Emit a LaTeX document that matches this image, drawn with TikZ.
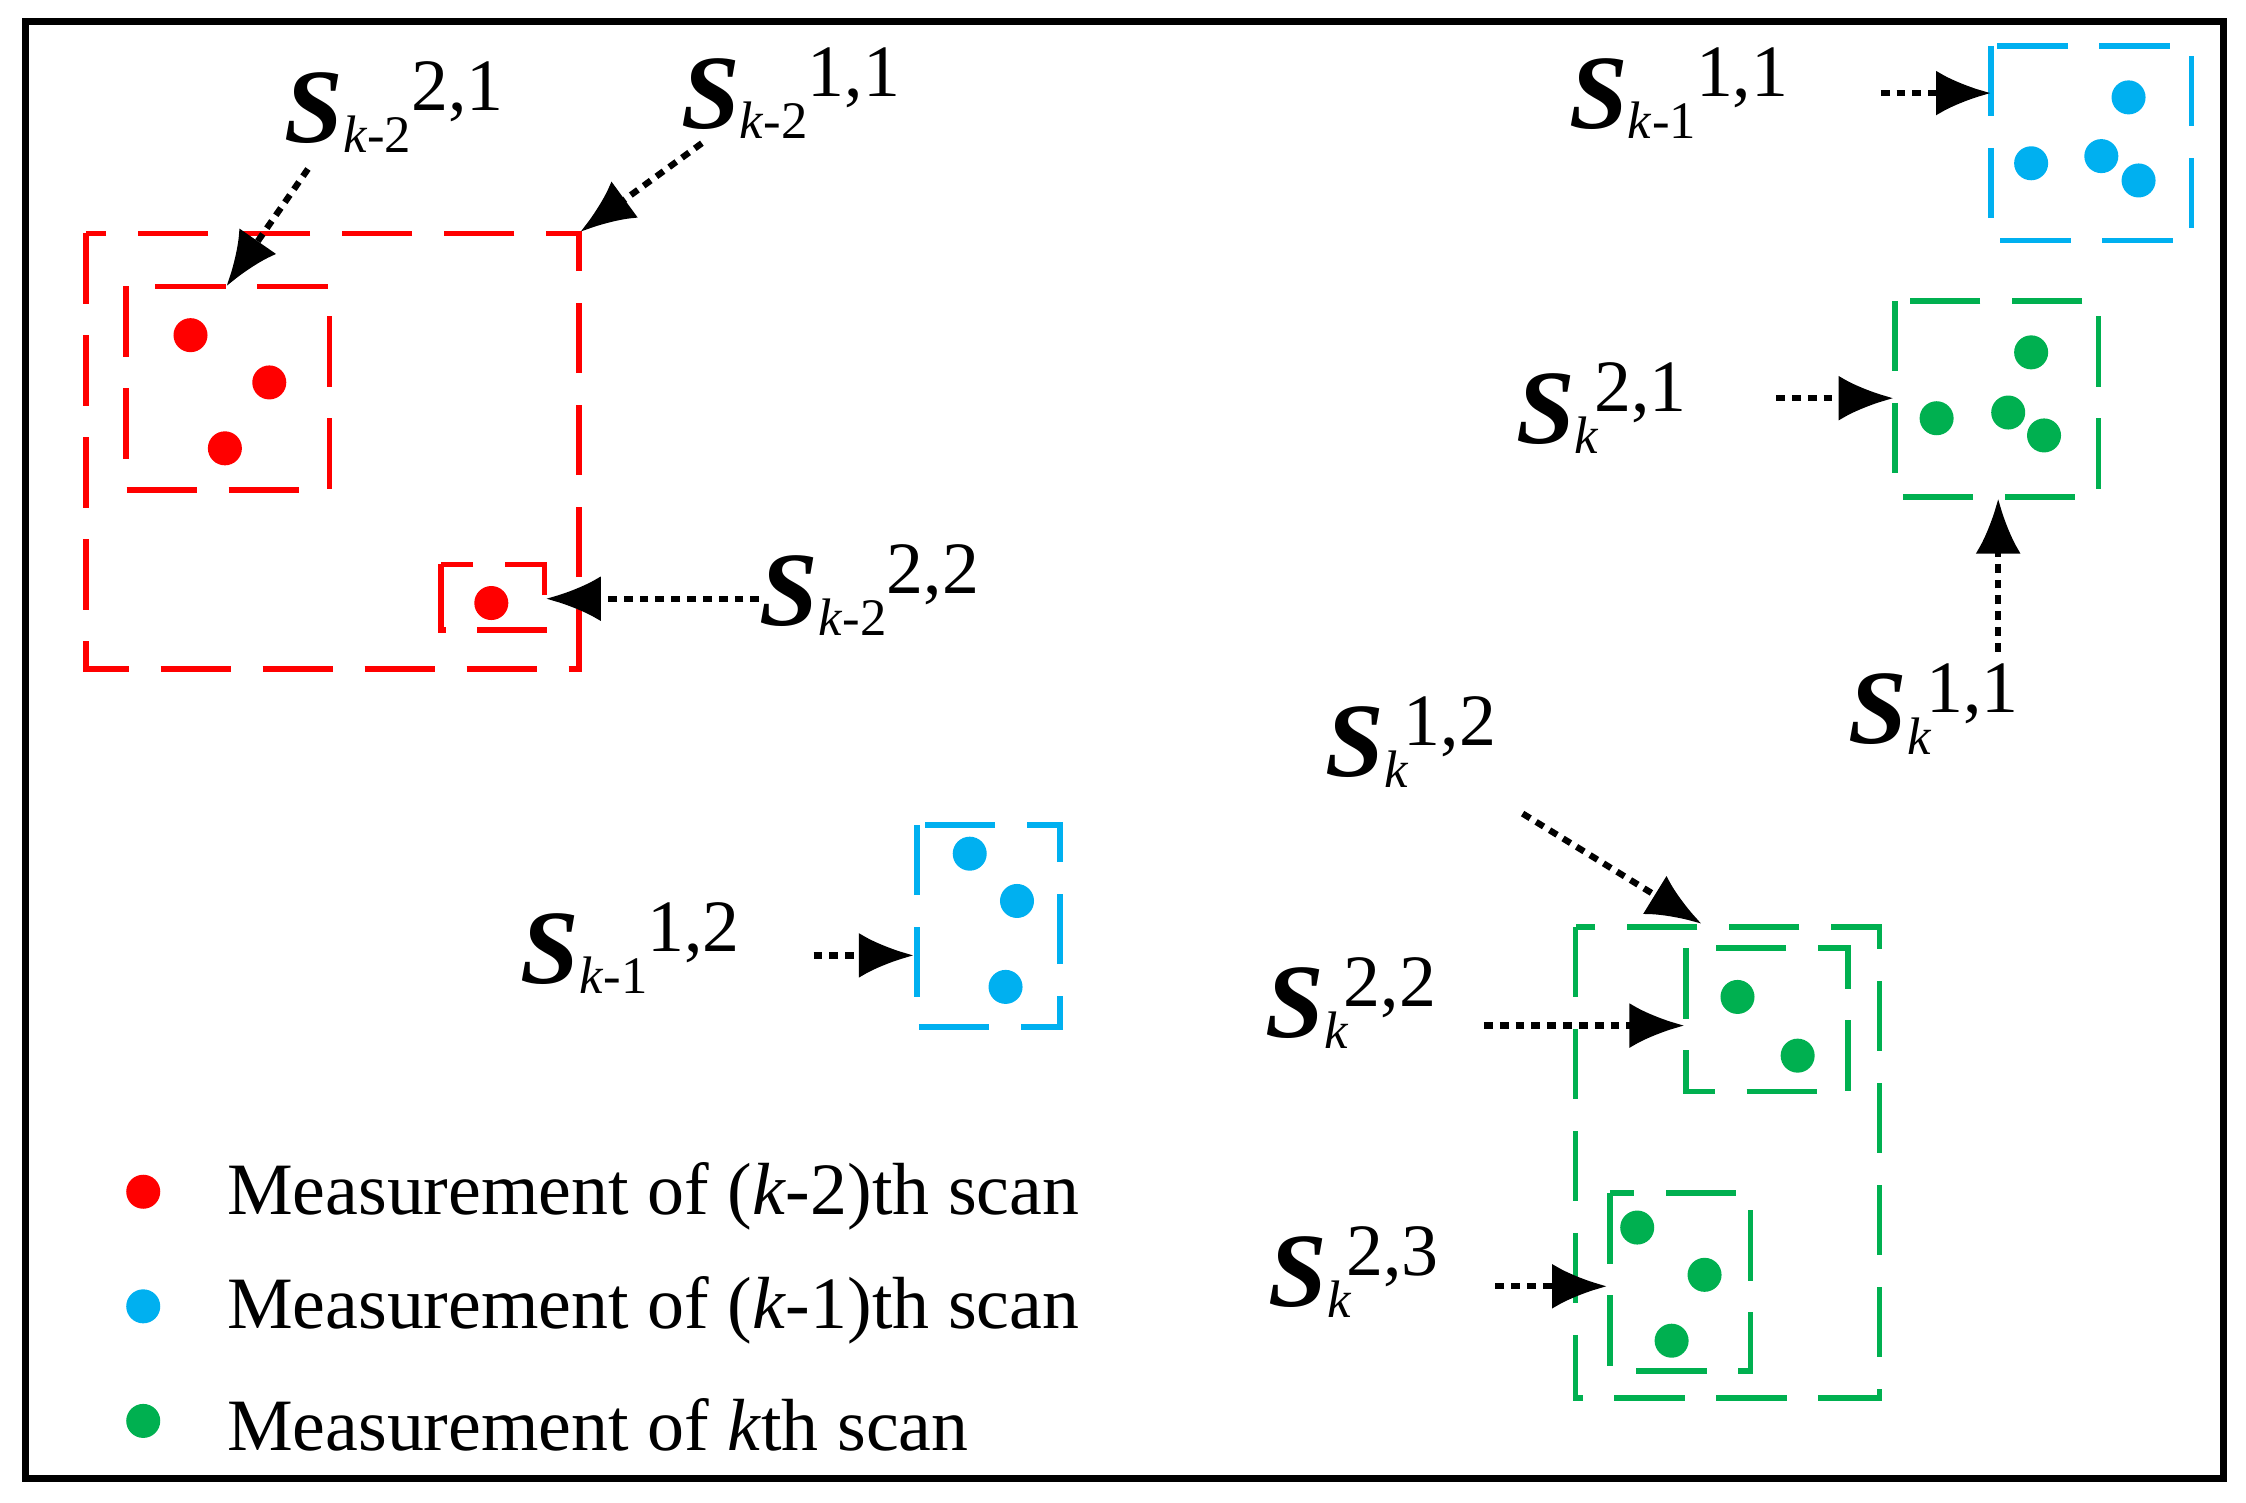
\documentclass[tikz,border=0pt]{standalone}
\usepackage{fontspec}
\setmainfont{Liberation Serif}
\usetikzlibrary{arrows.meta}
\definecolor{myred}{RGB}{255,0,0}
\definecolor{myblue}{RGB}{0,176,240}
\definecolor{mygreen}{RGB}{0,176,80}
\newcommand{\Sbig}{{\fontsize{30}{32}\selectfont\textbf{\textit{S}}}}
\newcommand{\lblsub}[2]{\Sbig\raisebox{-.3em}{\fontsize{15}{16}\selectfont\textit{k}-#1}\raisebox{.9em}{\fontsize{21}{22}\selectfont #2}}
\newcommand{\lblk}[1]{\Sbig\rlap{\raisebox{-.3em}{\fontsize{15}{16}\selectfont\textit{k}}}\hspace{.55em}\raisebox{.9em}{\fontsize{21}{22}\selectfont #1}}
\tikzset{
	gate/.style  = {line width=1.6pt, dash pattern=on 20pt off 9pt},
	meas/.style  = {circle, inner sep=0pt, minimum size=0.34cm},
	lbl/.style   = {inner sep=0pt},
	ptr/.style   = {line width=1.8pt, dash pattern=on 2.5pt off 2pt, -{Latex[length=0.55cm,width=0.45cm]}},
	legend/.style= {anchor=west, inner sep=0pt, font=\fontsize{21}{23}\selectfont}
}
\begin{document}
\begin{tikzpicture}[x=0.01432cm, y=-0.01432cm]
	\useasboundingbox (0,0) rectangle (1568,1049);
	\draw[line width=2pt] (18,15) rectangle (1552,1032);

	% gates
	\draw[gate, myred] (60,163) rectangle (404,467);
	\draw[gate, myred] (88,200) rectangle (230,342);
	\draw[gate, myred] (308,394) rectangle (380,440);
	\draw[gate, myblue] (1390,32) rectangle (1530,168);
	\draw[gate, mygreen] (1323,210) rectangle (1465,347);
	\draw[gate, myblue] (640,576) rectangle (740,717);
	\draw[gate, mygreen] (1100,647) rectangle (1312,976);
	\draw[gate, mygreen] (1177,662) rectangle (1290,762);
	\draw[gate, mygreen] (1124,833) rectangle (1222,957);

	% measurements
	\foreach \p in {(133,234),(188,267),(157,313),(343,421)}
		\node[meas, fill=myred] at \p {};
	\foreach \p in {(1486,68),(1418,114),(1467,109),(1493,126),(677,596),(710,629),(702,689)}
		\node[meas, fill=myblue] at \p {};
	\foreach \p in {(1418,246),(1352,292),(1402,288),(1427,304),(1213,696),(1255,737),(1143,857),(1190,890),(1167,936)}
		\node[meas, fill=mygreen] at \p {};

	% labels
	\node[lbl] (s2a) at (275,75) {\lblsub{2}{2,1}};
	\node[lbl] (s2b) at (552,65) {\lblsub{2}{1,1}};
	\node[lbl] (s2c) at (607,412) {\lblsub{2}{2,2}};
	\node[lbl] (s1a) at (1172,65) {\lblsub{1}{1,1}};
	\node[lbl] (s1b) at (440,662) {\lblsub{1}{1,2}};
	\node[lbl] (k21) at (1118,285) {\lblk{2,1}};
	\node[lbl] (k11) at (1350,495) {\lblk{1,1}};
	\node[lbl] (k12) at (985,518) {\lblk{1,2}};
	\node[lbl] (k22) at (943,700) {\lblk{2,2}};
	\node[lbl] (k23) at (945,888) {\lblk{2,3}};

	% pointers
	\coordinate (a1) at (215,118); \coordinate (b1) at (158,200);
	\coordinate (a2) at (490,100); \coordinate (b2) at (405,162);
	\coordinate (a3) at (530,418); \coordinate (b3) at (381,418);
	\coordinate (a4) at (1313,65); \coordinate (b4) at (1390,65);
	\coordinate (a5) at (1240,278); \coordinate (b5) at (1322,278);
	\coordinate (a6) at (1395,455); \coordinate (b6) at (1395,348);
	\coordinate (a7) at (1063,568); \coordinate (b7) at (1188,645);
	\coordinate (a8) at (568,667); \coordinate (b8) at (638,667);
	\coordinate (a9) at (1036,716); \coordinate (b9) at (1176,716);
	\coordinate (a10) at (1044,898); \coordinate (b10) at (1122,898);
	\foreach \i in {1,...,10}
		\draw[ptr] (a\i) -- (b\i);

	% legend
	\node[meas, fill=myred] (l1) at (100,832) {};
	\node[meas, fill=myblue] (l2) at (100,912) {};
	\node[meas, fill=mygreen] (l3) at (100,992) {};
	\node[legend] at (158,835) {Measurement of (\textit{k}-2)th scan};
	\node[legend] at (158,915) {Measurement of (\textit{k}-1)th scan};
	\node[legend] at (158,995) {Measurement of \textit{k}th scan};
\end{tikzpicture}
\end{document}
